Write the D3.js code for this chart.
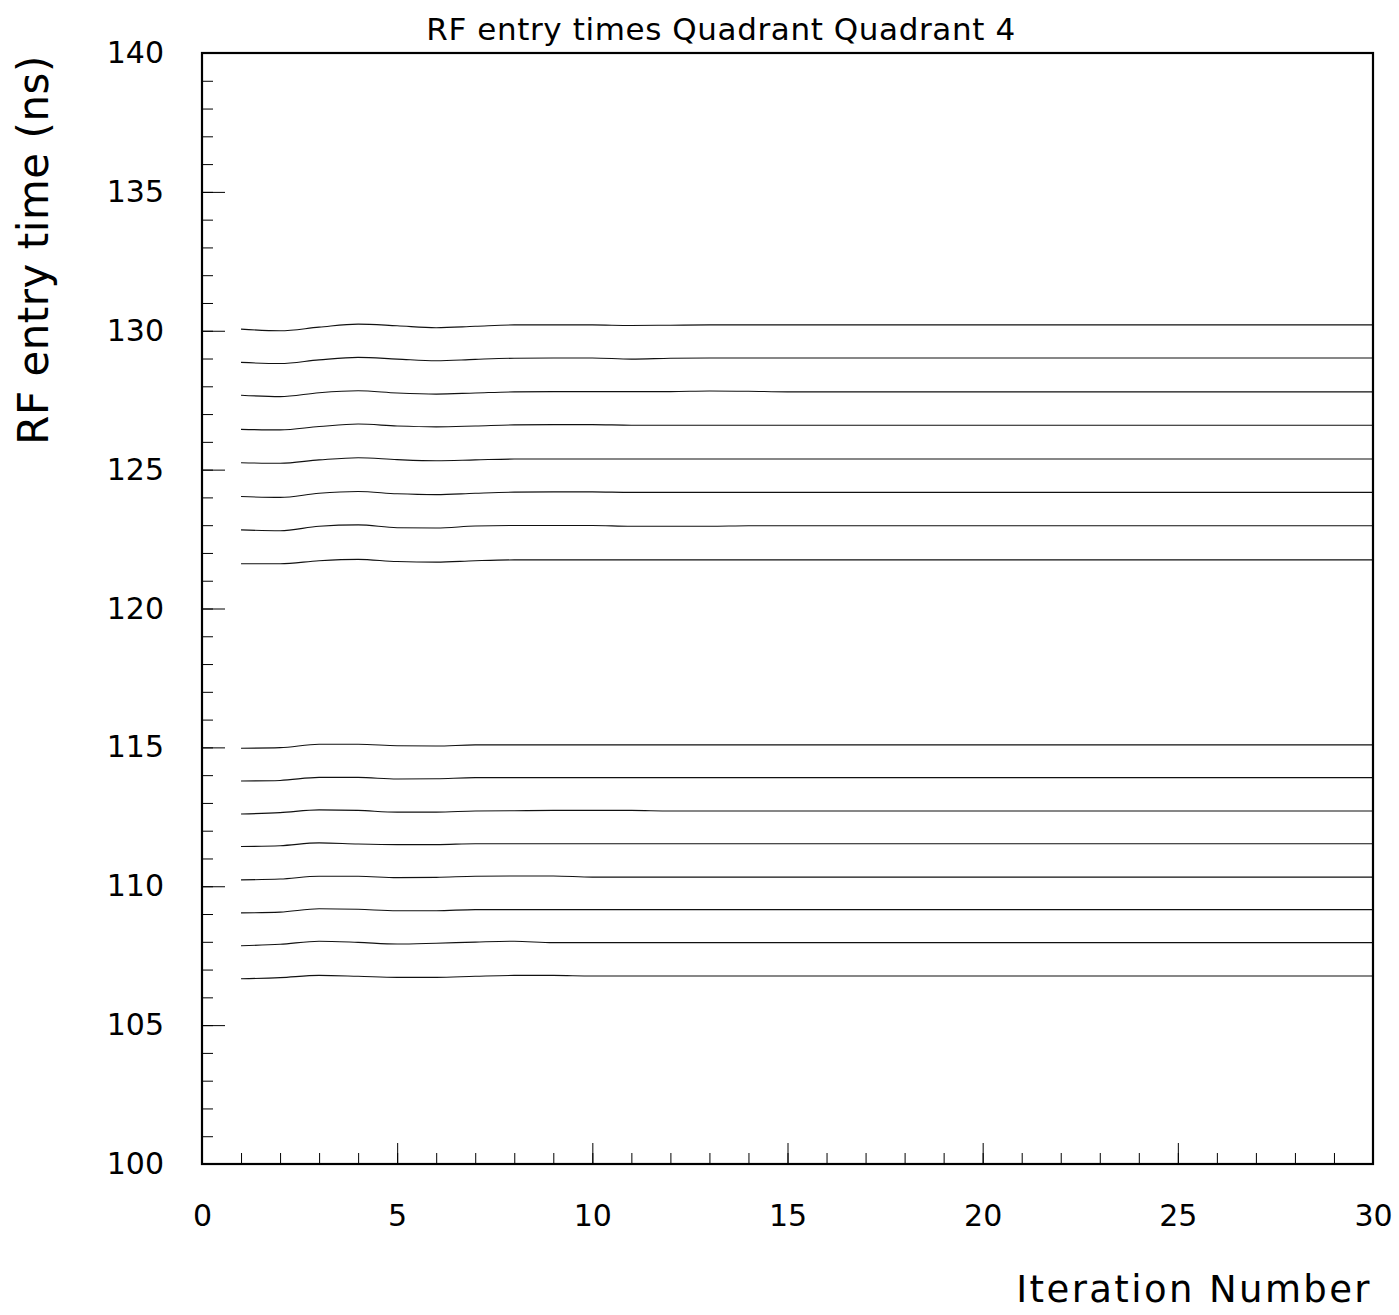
<!DOCTYPE html>
<html>
<head>
<meta charset="utf-8">
<script src="https://cdn.jsdelivr.net/npm/d3@7"></script>
<style>
  html, body { margin: 0; padding: 0; background: #fff; }
  svg { display: block; }
  .tick text { font-family: "DejaVu Sans", sans-serif; }
</style>
</head>
<body>
<svg id="chart" width="1399" height="1315"></svg>
<script>
// Iteration index (x) and RF entry time per channel (ns), one array per channel
const iterations = [1,2,3,4,5,6,7,8,9,10,11,12,13,14,15,16,17,18,19,20,21,22,23,24,25,26,27,28,29,30];

const ch1  = [130.06,130.00,130.13,130.24,130.18,130.11,130.16,130.21,130.21,130.21,130.19,130.20,130.21,130.21,130.21,130.21,130.21,130.21,130.21,130.21,130.21,130.21,130.21,130.21,130.21,130.21,130.21,130.21,130.21,130.21];
const ch2  = [128.86,128.82,128.95,129.04,128.98,128.92,128.97,129.01,129.02,129.02,128.98,129.01,129.02,129.02,129.02,129.02,129.02,129.02,129.02,129.02,129.02,129.02,129.02,129.02,129.02,129.02,129.02,129.02,129.02,129.02];
const ch3  = [127.68,127.63,127.77,127.84,127.76,127.72,127.76,127.80,127.81,127.81,127.81,127.81,127.83,127.82,127.80,127.80,127.80,127.80,127.80,127.80,127.80,127.80,127.80,127.80,127.80,127.80,127.80,127.80,127.80,127.80];
const ch4  = [126.45,126.43,126.55,126.64,126.57,126.54,126.57,126.61,126.62,126.62,126.60,126.60,126.60,126.60,126.60,126.60,126.60,126.60,126.60,126.60,126.60,126.60,126.60,126.60,126.60,126.60,126.60,126.60,126.60,126.60];
const ch5  = [125.25,125.23,125.35,125.43,125.36,125.32,125.35,125.38,125.38,125.38,125.38,125.38,125.38,125.38,125.38,125.38,125.38,125.38,125.38,125.38,125.38,125.38,125.38,125.38,125.38,125.38,125.38,125.38,125.38,125.38];
const ch6  = [124.03,124.00,124.15,124.21,124.13,124.10,124.15,124.19,124.20,124.20,124.18,124.18,124.18,124.18,124.18,124.18,124.18,124.18,124.18,124.18,124.18,124.18,124.18,124.18,124.18,124.18,124.18,124.18,124.18,124.18];
const ch7  = [122.83,122.80,122.96,123.01,122.91,122.90,122.97,122.99,122.99,122.99,122.96,122.96,122.96,122.98,122.98,122.98,122.98,122.98,122.98,122.98,122.98,122.98,122.98,122.98,122.98,122.98,122.98,122.98,122.98,122.98];
const ch8  = [121.61,121.61,121.72,121.77,121.69,121.67,121.72,121.75,121.75,121.75,121.75,121.75,121.75,121.75,121.75,121.75,121.75,121.75,121.75,121.75,121.75,121.75,121.75,121.75,121.75,121.75,121.75,121.75,121.75,121.75];
const ch9  = [114.97,114.99,115.11,115.11,115.06,115.05,115.09,115.09,115.09,115.09,115.09,115.09,115.09,115.09,115.09,115.09,115.09,115.09,115.09,115.09,115.09,115.09,115.09,115.09,115.09,115.09,115.09,115.09,115.09,115.09];
const ch10 = [113.79,113.81,113.92,113.92,113.86,113.87,113.91,113.91,113.91,113.91,113.91,113.91,113.91,113.91,113.91,113.91,113.91,113.91,113.91,113.91,113.91,113.91,113.91,113.91,113.91,113.91,113.91,113.91,113.91,113.91];
const ch11 = [112.60,112.65,112.75,112.73,112.67,112.67,112.71,112.72,112.73,112.73,112.73,112.71,112.71,112.71,112.71,112.71,112.71,112.71,112.71,112.71,112.71,112.71,112.71,112.71,112.71,112.71,112.71,112.71,112.71,112.71];
const ch12 = [111.43,111.46,111.56,111.52,111.50,111.50,111.53,111.53,111.53,111.53,111.53,111.53,111.53,111.53,111.53,111.53,111.53,111.53,111.53,111.53,111.53,111.53,111.53,111.53,111.53,111.53,111.53,111.53,111.53,111.53];
const ch13 = [110.23,110.26,110.36,110.36,110.31,110.32,110.36,110.37,110.37,110.33,110.33,110.33,110.33,110.33,110.33,110.33,110.33,110.33,110.33,110.33,110.33,110.33,110.33,110.33,110.33,110.33,110.33,110.33,110.33,110.33];
const ch14 = [109.04,109.07,109.19,109.17,109.12,109.12,109.16,109.16,109.16,109.16,109.16,109.16,109.16,109.16,109.16,109.16,109.16,109.16,109.16,109.16,109.16,109.16,109.16,109.16,109.16,109.16,109.16,109.16,109.16,109.16];
const ch15 = [107.86,107.91,108.02,107.98,107.92,107.95,107.99,108.02,107.97,107.97,107.97,107.97,107.97,107.97,107.97,107.97,107.97,107.97,107.97,107.97,107.97,107.97,107.97,107.97,107.97,107.97,107.97,107.97,107.97,107.97];
const ch16 = [106.67,106.71,106.79,106.76,106.72,106.72,106.76,106.79,106.79,106.77,106.77,106.77,106.77,106.77,106.77,106.77,106.77,106.77,106.77,106.77,106.77,106.77,106.77,106.77,106.77,106.77,106.77,106.77,106.77,106.77];

const channels = [ch1, ch2, ch3, ch4, ch5, ch6, ch7, ch8, ch9, ch10, ch11, ch12, ch13, ch14, ch15, ch16];

const xMajorTicks = [0, 5, 10, 15, 20, 25, 30];
const yMajorTicks = [100, 105, 110, 115, 120, 125, 130, 135, 140];

const titleText = "RF entry times Quadrant Quadrant 4";
const xTitle = "Iteration Number";
const yTitle = "RF entry time (ns)";

// Frame geometry
const frameLeft = 202, frameRight = 1373, frameTop = 53, frameBottom = 1164;

const svg = d3.select("#chart");

const x = d3.scaleLinear().domain([0, 30]).range([frameLeft, frameRight]);
const y = d3.scaleLinear().domain([100, 140]).range([frameBottom, frameTop]);

// Minor ticks (every unit), drawn inward from the frame
svg.append("g")
  .attr("transform", `translate(0,${frameBottom})`)
  .call(d3.axisBottom(x).tickValues(d3.range(0, 31, 1)).tickSizeInner(-11).tickSizeOuter(0).tickFormat(""))
  .call(g => g.select(".domain").remove())
  .call(g => g.selectAll("line").attr("stroke", "#000").attr("stroke-width", 1));

svg.append("g")
  .attr("transform", `translate(${frameLeft},0)`)
  .call(d3.axisLeft(y).tickValues(d3.range(100, 141, 1)).tickSizeInner(-11).tickSizeOuter(0).tickFormat(""))
  .call(g => g.select(".domain").remove())
  .call(g => g.selectAll("line").attr("stroke", "#000").attr("stroke-width", 1));

// Major ticks with labels
svg.append("g")
  .attr("transform", `translate(0,${frameBottom})`)
  .call(d3.axisBottom(x).tickValues(xMajorTicks).tickSizeInner(-21).tickSizeOuter(0).tickPadding(41).tickFormat(d3.format("d")))
  .call(g => g.select(".domain").remove())
  .call(g => g.selectAll("line").attr("stroke", "#000").attr("stroke-width", 1))
  .call(g => g.selectAll("text").attr("font-size", 30).attr("fill", "#000"));

svg.append("g")
  .attr("transform", `translate(${frameLeft},0)`)
  .call(d3.axisLeft(y).tickValues(yMajorTicks).tickSizeInner(-23).tickSizeOuter(0).tickPadding(38).tickFormat(d3.format("d")))
  .call(g => g.select(".domain").remove())
  .call(g => g.selectAll("line").attr("stroke", "#000").attr("stroke-width", 1))
  .call(g => g.selectAll("text").attr("font-size", 30).attr("fill", "#000"));

// Channel curves
const line = d3.line()
  .x((d, i) => x(iterations[i]))
  .y(d => y(d))
  .curve(d3.curveMonotoneX);

svg.append("g")
  .selectAll("path")
  .data(channels)
  .join("path")
  .attr("d", line)
  .attr("fill", "none")
  .attr("stroke", "#111")
  .attr("stroke-width", 1.1);

// Frame
svg.append("rect")
  .attr("x", frameLeft).attr("y", frameTop)
  .attr("width", frameRight - frameLeft).attr("height", frameBottom - frameTop)
  .attr("fill", "none").attr("stroke", "#000").attr("stroke-width", 2.2);

// Titles
svg.append("text")
  .attr("x", 721).attr("y", 40)
  .attr("text-anchor", "middle")
  .attr("font-family", "DejaVu Sans, sans-serif")
  .attr("font-size", 31)
  .attr("letter-spacing", 0.6)
  .text(titleText);

svg.append("text")
  .attr("x", 1372).attr("y", 1302)
  .attr("text-anchor", "end")
  .attr("font-family", "DejaVu Sans, sans-serif")
  .attr("font-size", 37)
  .attr("letter-spacing", 2.4)
  .text(xTitle);

svg.append("text")
  .attr("transform", "translate(48,250) rotate(-90)")
  .attr("text-anchor", "middle")
  .attr("font-family", "DejaVu Sans, sans-serif")
  .attr("font-size", 42)
  .attr("letter-spacing", 0.5)
  .text(yTitle);
</script>
</body>
</html>
